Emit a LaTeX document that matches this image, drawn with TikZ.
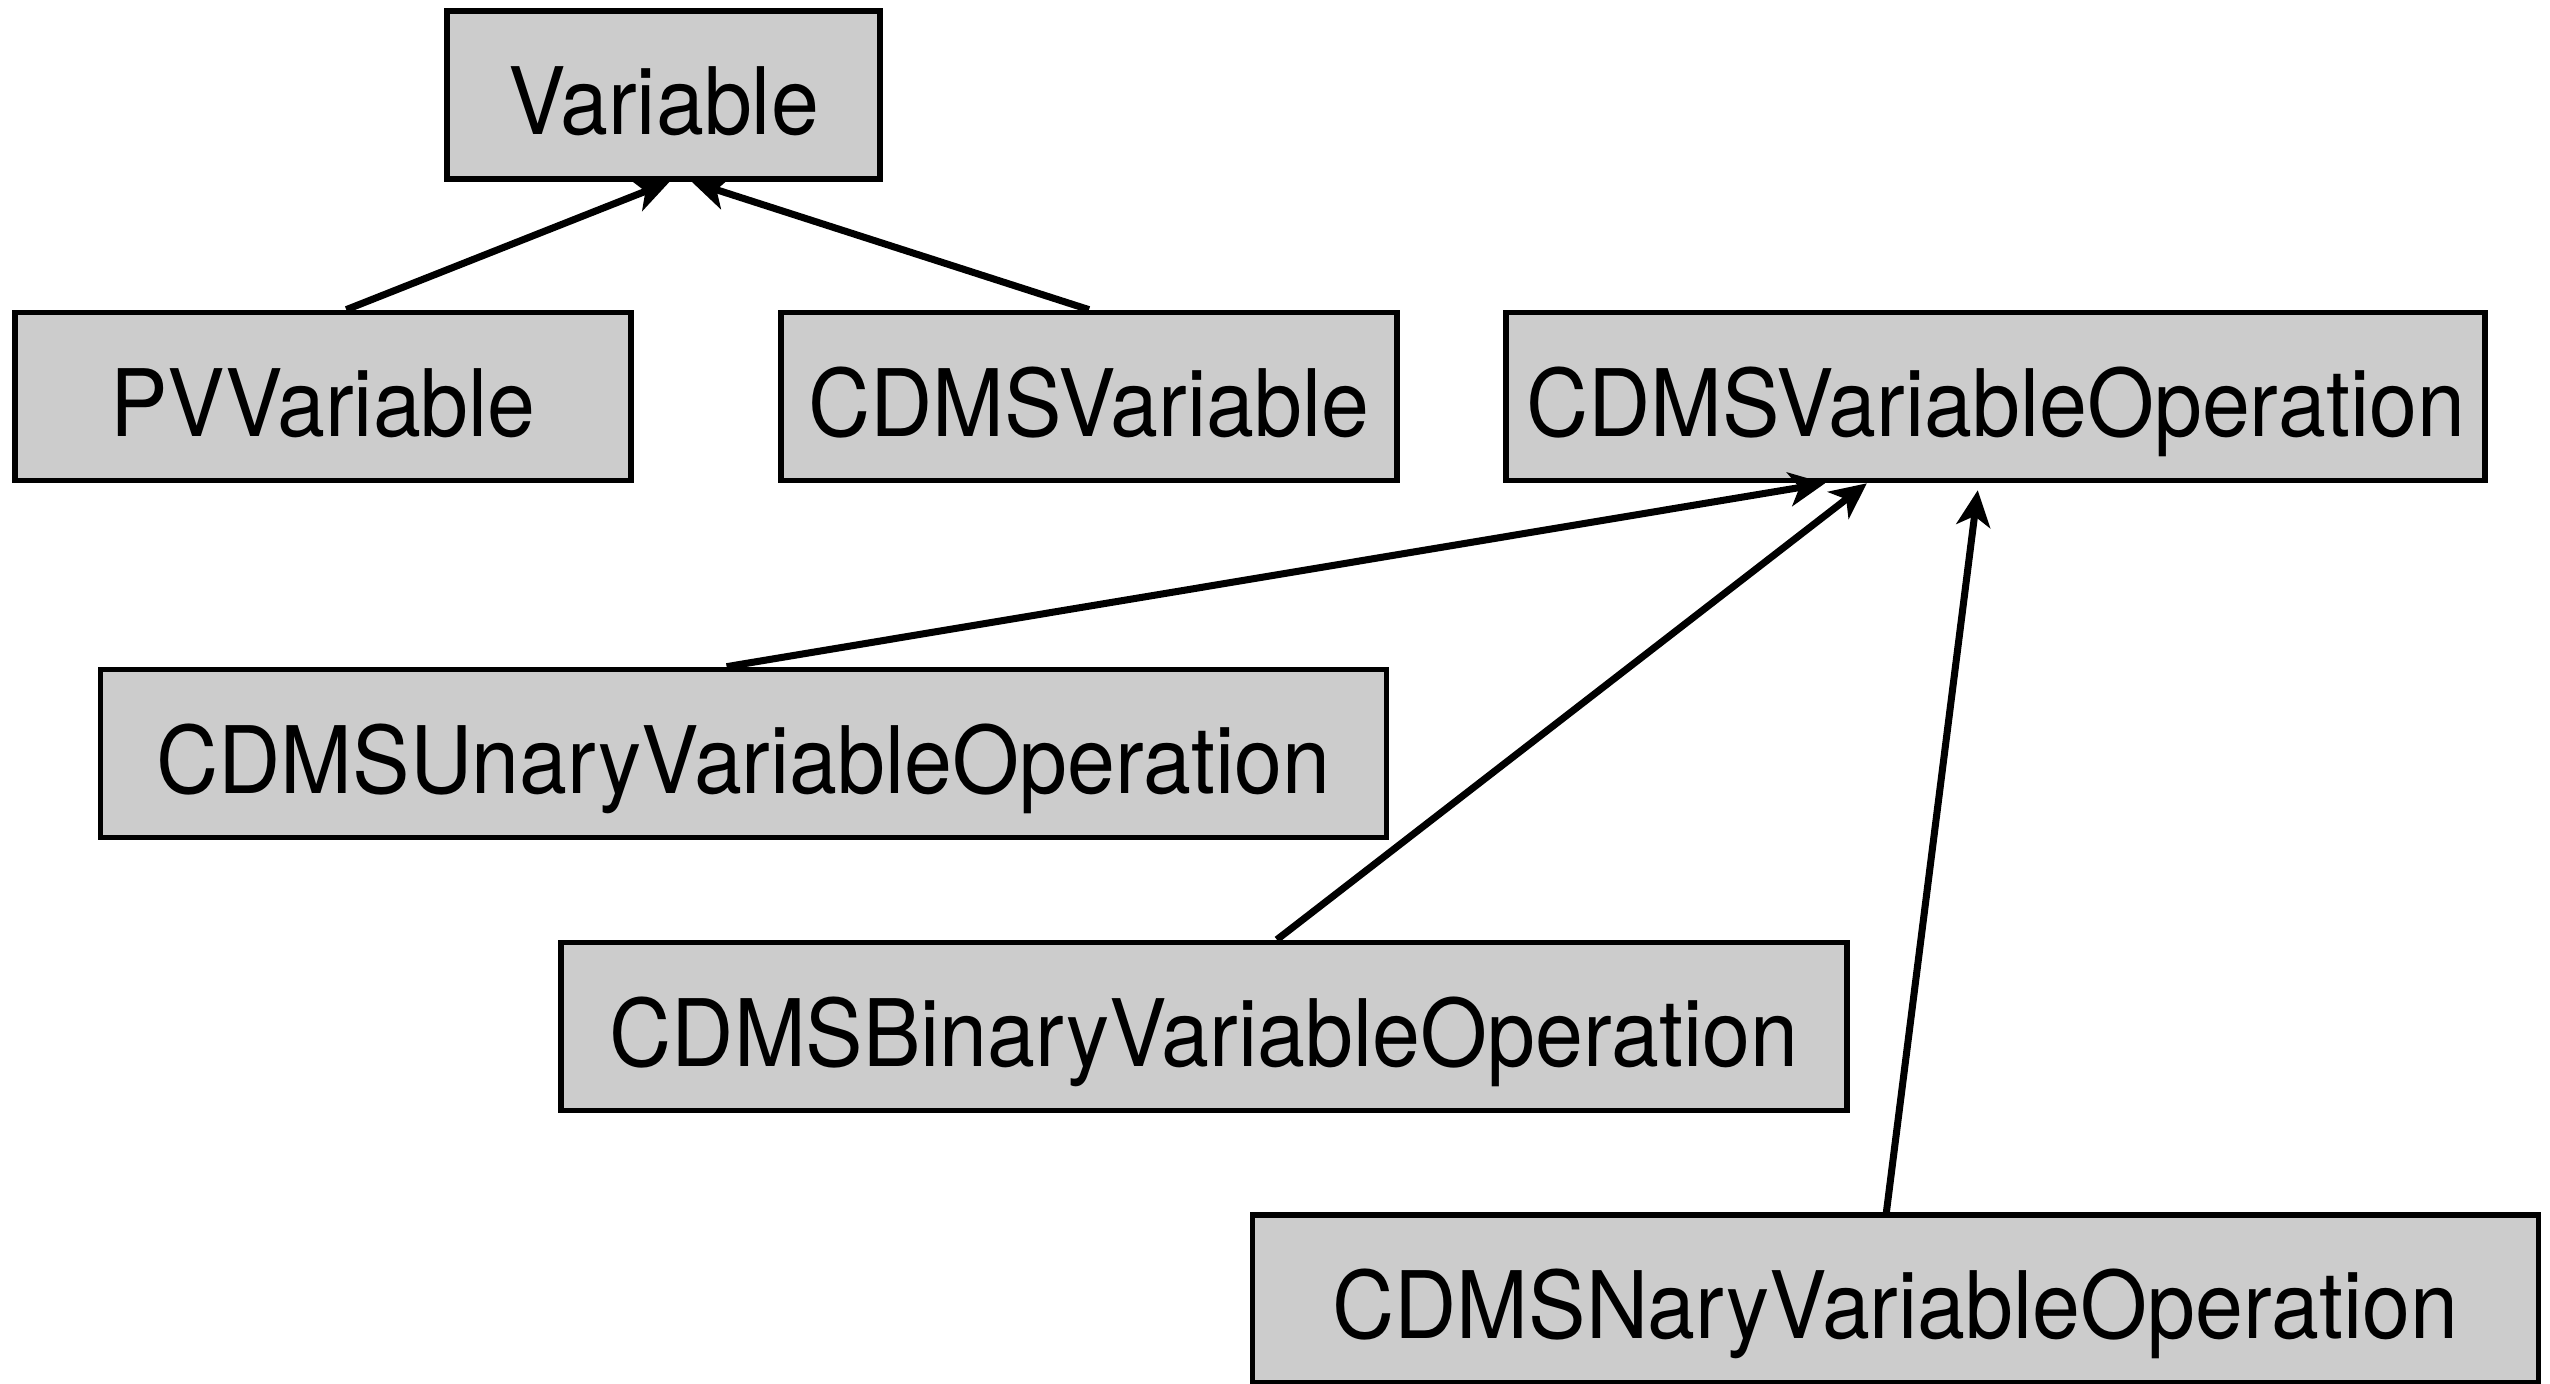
\documentclass[tikz,border=0pt]{standalone}
\usepackage{fontspec}
\setmainfont{TeX Gyre Heros}[FakeStretch=0.925]
\usetikzlibrary{positioning, arrows.meta}
\definecolor{boxgray}{HTML}{CCCCCC}

\begin{document}
\begin{tikzpicture}[
        box/.style={draw, line width=1.6pt, fill=boxgray, minimum height=1.68cm, inner sep=0pt, text height=0.85cm, text depth=0.05cm, font=\fontsize{26.5}{30}\selectfont},
        opbox/.style={box, minimum width=12.86cm},
        isa/.style={draw, line width=2pt, -{Stealth[length=0.36cm, width=0.34cm, inset=0.1cm]}}
    ]
    \useasboundingbox (0,0) rectangle (25.5,13.84);

    % Base class
    \node[box, minimum width=4.33cm] (variable) at (6.635, 12.89) {Variable};

    % Second row
    \node[box, minimum width=6.16cm] (pvvar) at (3.23, 9.875) {PVVariable};
    \node[box, minimum width=6.16cm] (cdmsvar) at (10.89, 9.875) {CDMSVariable};
    \node[box, minimum width=9.79cm] (varop) at (19.955, 9.875) {CDMSVariableOperation};

    % Operation subclasses
    \node[opbox] (unaryop) at (7.435, 6.305) {CDMSUnaryVariableOperation};
    \node[opbox] (binaryop) at (12.04, 3.575) {CDMSBinaryVariableOperation};
    \node[opbox] (naryop) at (18.955, 0.85) {CDMSNaryVariableOperation};

    % Inheritance edges
    \draw[isa] (pvvar.75) -- (variable.-86);
    \draw[isa] (cdmsvar.north) -- (variable.-72);
    \draw[isa] (unaryop.101) -- (varop.-153);
    \draw[isa] (binaryop.50) -- (varop.-146.5);
    \draw[isa, shorten >=0.07cm] (naryop.96) -- (varop.-101.7);

\end{tikzpicture}
\end{document}
